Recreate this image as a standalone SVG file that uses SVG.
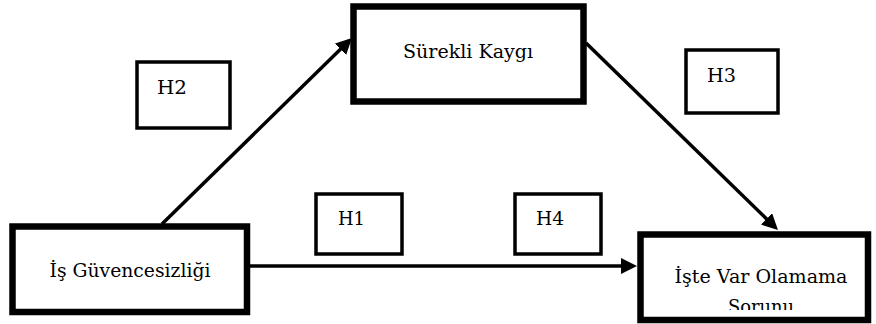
<svg xmlns="http://www.w3.org/2000/svg" width="876" height="324" viewBox="0 0 876 324">
  <style>
    .box { fill: #ffffff; stroke: #000000; stroke-width: 6.5; }
    .hbox { fill: #ffffff; stroke: #000000; stroke-width: 3.5; }
    .lbl { font-family: 'DejaVu Serif', serif; font-size: 19px; fill: #000000; }
    .conn { stroke: #000000; stroke-width: 3.5; fill: none; }
  </style>
  <defs>
    <marker id="arrow" viewBox="0 0 16 16" refX="12" refY="8" markerWidth="16" markerHeight="16" markerUnits="userSpaceOnUse" orient="auto">
      <path d="M0,0 L16,8 L0,16 z" fill="#000000"/>
    </marker>
    <clipPath id="clip3">
      <rect x="643" y="237" width="222" height="73"/>
    </clipPath>
  </defs>
  <rect width="876" height="324" fill="#ffffff"/>

  <g id="connectors">
    <line class="conn" x1="162" y1="224" x2="349.1" y2="40.8" marker-end="url(#arrow)"/>
    <line class="conn" x1="586" y1="43" x2="775.1" y2="227.2" marker-end="url(#arrow)"/>
    <line class="conn" x1="250" y1="266" x2="633" y2="266" marker-end="url(#arrow)"/>
  </g>

  <g id="node-is-guvencesizligi">
    <rect class="box" x="12.5" y="226.5" width="234.5" height="85.5"/>
    <text class="lbl" x="130" y="277" text-anchor="middle" textLength="161" lengthAdjust="spacingAndGlyphs">İş Güvencesizliği</text>
  </g>

  <g id="node-surekli-kaygi">
    <rect class="box" x="353.5" y="6.5" width="230" height="95"/>
    <text class="lbl" x="468" y="58" text-anchor="middle" textLength="130" lengthAdjust="spacingAndGlyphs">Sürekli Kaygı</text>
  </g>

  <g id="node-iste-var-olamama">
    <rect class="box" x="640.5" y="234.5" width="227.5" height="85.5"/>
    <g clip-path="url(#clip3)">
      <text class="lbl" x="761" y="283" text-anchor="middle" textLength="173" lengthAdjust="spacingAndGlyphs">İşte Var Olamama</text>
      <text class="lbl" x="761" y="313" text-anchor="middle" textLength="66" lengthAdjust="spacingAndGlyphs">Sorunu</text>
    </g>
  </g>

  <g id="node-h2">
    <rect class="hbox" x="137" y="62" width="93" height="66"/>
    <text class="lbl" x="157" y="94" textLength="30" lengthAdjust="spacingAndGlyphs">H2</text>
  </g>

  <g id="node-h3">
    <rect class="hbox" x="686" y="50" width="92" height="63"/>
    <text class="lbl" x="707" y="82" textLength="29" lengthAdjust="spacingAndGlyphs">H3</text>
  </g>

  <g id="node-h1">
    <rect class="hbox" x="316" y="194" width="86" height="60"/>
    <text class="lbl" x="338" y="225" textLength="27" lengthAdjust="spacingAndGlyphs">H1</text>
  </g>

  <g id="node-h4">
    <rect class="hbox" x="515" y="194" width="86" height="60"/>
    <text class="lbl" x="536" y="225" textLength="28" lengthAdjust="spacingAndGlyphs">H4</text>
  </g>
</svg>
